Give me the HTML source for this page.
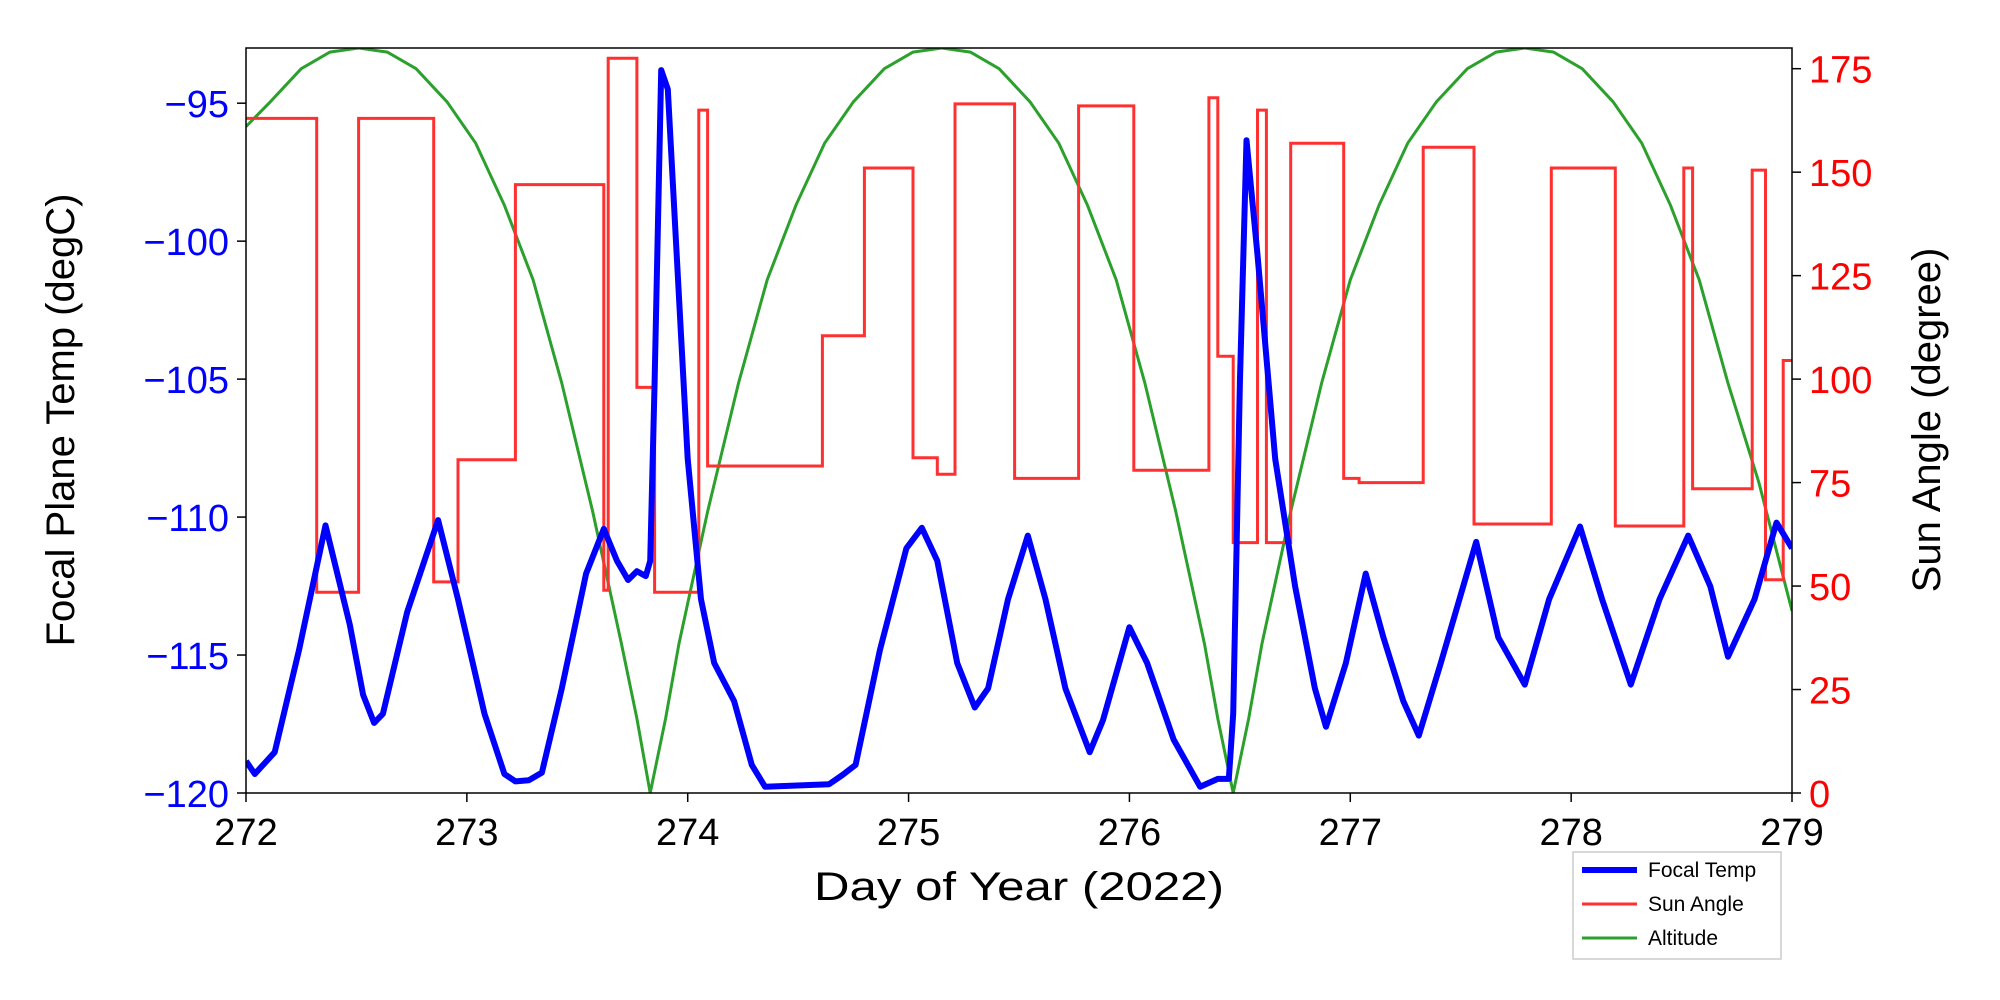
<!DOCTYPE html>
<html><head><meta charset="utf-8"><style>
html,body{margin:0;padding:0;background:#fff;}
svg{display:block;font-family:"Liberation Sans","DejaVu Sans",sans-serif;}
</style></head><body>
<svg id="chart" width="2000" height="1000" viewBox="0 0 2000 1000">
<defs><clipPath id="pc"><rect x="246" y="48" width="1546" height="745"/></clipPath></defs>
<g id="series" clip-path="url(#pc)"></g>
<rect x="246" y="48" width="1546" height="745" fill="none" stroke="#000" stroke-width="1.5"/>
<g id="axes"></g>
<text x="74" y="420" font-size="40" text-anchor="middle" transform="rotate(-90 74 420)">Focal Plane Temp (degC)</text>
<text x="1940" y="420" font-size="40" text-anchor="middle" transform="rotate(-90 1940 420)">Sun Angle (degree)</text>
<text x="1019" y="900" font-size="40" text-anchor="middle" textLength="410" lengthAdjust="spacingAndGlyphs">Day of Year (2022)</text>
<g>
<rect x="1573" y="852" width="208" height="107" fill="#fff" stroke="#ccc" stroke-width="1.5"/>
<line x1="1582" y1="870" x2="1637" y2="870" stroke="#0000ff" stroke-width="6"/>
<text x="1648" y="877" font-size="21">Focal Temp</text>
<line x1="1582" y1="904" x2="1637" y2="904" stroke="#ff3030" stroke-width="3"/>
<text x="1648" y="911" font-size="21">Sun Angle</text>
<line x1="1582" y1="938" x2="1637" y2="938" stroke="#2ca02c" stroke-width="3"/>
<text x="1648" y="945" font-size="21">Altitude</text>
</g>
</svg>
<script>
const xTicks=[272,273,274,275,276,277,278,279];
const yLeftTicks=[-120,-115,-110,-105,-100,-95];
const yRightTicks=[0,25,50,75,100,125,150,175];
const focalT=[272.00,272.04,272.13,272.24,272.36,272.47,272.53,272.58,272.62,272.73,272.87,272.96,273.08,273.17,273.22,273.28,273.34,273.43,273.54,273.62,273.68,273.73,273.77,273.81,273.83,273.85,273.88,273.91,273.95,274.00,274.06,274.12,274.21,274.29,274.35,274.64,274.70,274.76,274.87,274.99,275.06,275.13,275.22,275.30,275.36,275.45,275.54,275.62,275.71,275.82,275.88,276.00,276.08,276.20,276.32,276.40,276.45,276.47,276.50,276.53,276.58,276.66,276.75,276.84,276.89,276.98,277.07,277.15,277.24,277.31,277.41,277.57,277.67,277.79,277.90,278.04,278.14,278.27,278.40,278.53,278.63,278.71,278.83,278.93,279.00];
const focalV=[-118.84,-119.31,-118.52,-114.82,-110.30,-113.90,-116.44,-117.46,-117.13,-113.44,-110.11,-112.98,-117.13,-119.31,-119.58,-119.54,-119.26,-116.21,-112.05,-110.43,-111.59,-112.28,-111.96,-112.14,-111.59,-105.12,-93.80,-94.49,-100.50,-107.89,-112.98,-115.29,-116.67,-118.98,-119.77,-119.68,-119.35,-118.98,-114.82,-111.13,-110.39,-111.59,-115.29,-116.90,-116.21,-112.98,-110.67,-112.98,-116.21,-118.52,-117.37,-113.99,-115.29,-118.06,-119.77,-119.49,-119.49,-117.13,-105.12,-96.34,-100.50,-107.89,-112.51,-116.21,-117.60,-115.29,-112.05,-114.36,-116.67,-117.92,-115.29,-110.90,-114.36,-116.07,-112.98,-110.34,-112.98,-116.07,-112.98,-110.67,-112.51,-115.06,-112.98,-110.20,-111.13];
const sunT=[272.00,272.32,272.51,272.85,272.96,273.22,273.62,273.64,273.68,273.77,273.85,274.05,274.09,274.61,274.80,275.02,275.13,275.21,275.48,275.77,276.02,276.36,276.40,276.47,276.58,276.62,276.73,276.97,277.04,277.33,277.56,277.91,278.20,278.51,278.55,278.82,278.88,278.96];
const sunV=[163,48.5,163,51,80.5,147,49,177.5,177.5,98,48.5,165,79,110.5,151,81,77,166.5,76,166,78,168,105.5,60.5,165,60.5,157,76,75,156,65,151,64.5,151,73.5,150.5,51.5,104.5];
const altT=[272.00,272.11,272.25,272.38,272.51,272.64,272.77,272.91,273.04,273.17,273.30,273.43,273.57,273.70,273.77,273.83,273.90,273.96,274.09,274.23,274.36,274.49,274.62,274.75,274.89,275.02,275.15,275.28,275.41,275.55,275.68,275.81,275.94,276.07,276.21,276.34,276.40,276.47,276.54,276.60,276.73,276.87,277.00,277.13,277.26,277.39,277.53,277.66,277.79,277.92,278.05,278.19,278.32,278.45,278.58,278.71,278.85,279.00];
const altV=[161,167,175,179,180,179,175,167,157,142,124,99,68,36,18,0,18,36,68,99,124,142,157,167,175,179,180,179,175,167,157,142,124,99,68,36,18,0,18,36,68,99,124,142,157,167,175,179,180,179,175,167,157,142,124,99,75,44];

const L=246,R=1792,T=48,B=793,NS="http://www.w3.org/2000/svg";
const sx=t=>L+(t-272)/7*(R-L);
const syL=v=>B-(v+120)/27*(B-T);
const syR=v=>B-v/180*(B-T);
function mk(tag,attrs,parent,txt){const e=document.createElementNS(NS,tag);for(const k in attrs)e.setAttribute(k,attrs[k]);if(txt!==undefined)e.textContent=txt;parent.appendChild(e);return e;}
const ax=document.getElementById('axes'),sg=document.getElementById('series');
xTicks.forEach(t=>{const x=sx(t);
 const l=mk('line',{x1:x,y1:B,x2:x,y2:B+9,stroke:'#000','stroke-width':1.5},ax);
 
 
 const tx=mk('text',{x:x,y:B+52,'font-size':38,'text-anchor':'middle'},ax,String(t));
 
 });
yLeftTicks.forEach(v=>{const y=syL(v);
 const l=mk('line',{x1:L-9,y1:y,x2:L,y2:y,stroke:'#000','stroke-width':1.5},ax);
 
 
 const tx=mk('text',{x:L-17,y:y+14,'font-size':38,'text-anchor':'end',fill:'#0000ff'},ax,String(v).replace('-','\u2212'));
 
 });
yRightTicks.forEach(v=>{const y=syR(v);
 const l=mk('line',{x1:R,y1:y,x2:R+9,y2:y,stroke:'#000','stroke-width':1.5},ax);
 
 
 const tx=mk('text',{x:R+17,y:y+14,'font-size':38,'text-anchor':'start',fill:'#ff0000'},ax,String(v));
 
 });
let d=altT.map((t,i)=>(i?'L':'M')+sx(t).toFixed(1)+','+syR(altV[i]).toFixed(1)).join('');
const alt=mk('path',{d:d,fill:'none',stroke:'#2ca02c','stroke-width':3},sg);


d='';sunT.forEach((t,i)=>{const x=sx(t).toFixed(1),y=syR(sunV[i]).toFixed(1);d+=(i?'L'+x+','+syR(sunV[i-1]).toFixed(1)+'L':'M')+x+','+y;});
d+='L'+sx(279.1)+','+syR(sunV[sunV.length-1]);
const sun=mk('path',{d:d,fill:'none',stroke:'#ff3030','stroke-width':3},sg);


d=focalT.map((t,i)=>(i?'L':'M')+sx(t).toFixed(1)+','+syL(focalV[i]).toFixed(1)).join('');
const foc=mk('path',{d:d,fill:'none',stroke:'#0000ff','stroke-width':6,'stroke-linejoin':'round'},sg);


</script>
</body></html>
